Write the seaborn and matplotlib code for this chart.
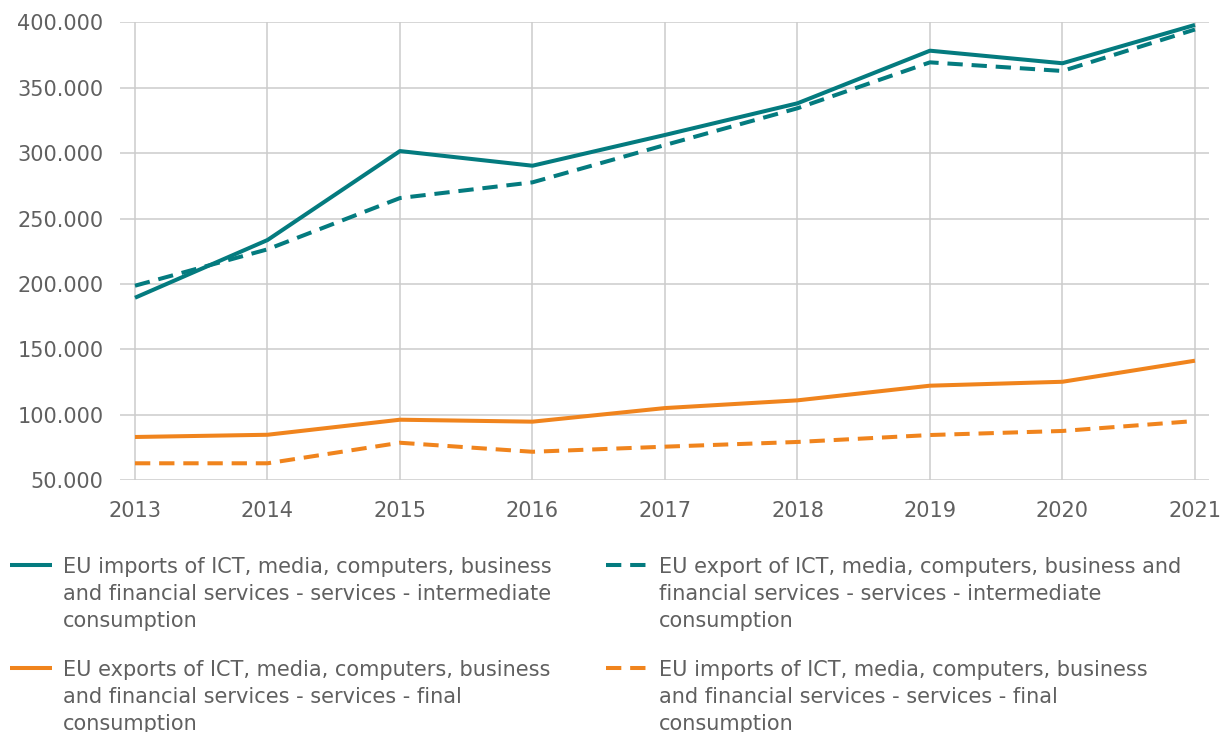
import numpy as np
import pandas as pd
import matplotlib.pyplot as plt
import seaborn as sns

sns.set_theme(style="whitegrid")
plt.rcParams['font.family'] = ['DejaVu Sans']

#%% dados
years = [2013, 2014, 2015, 2016, 2017, 2018, 2019, 2020, 2021]
imp_interm = [189500, 233600, 301600, 290400, 313900, 338100, 378300, 368700, 398000]
exp_interm = [198700, 226500, 265700, 277700, 306200, 334300, 369400, 362800, 394500]
exp_final = [83100, 84800, 96300, 94800, 105200, 111100, 122300, 125300, 141400]
imp_final = [63000, 63000, 78700, 71800, 75700, 79300, 84600, 87700, 95300]

labels = [
    "EU imports of ICT, media, computers, business\nand financial services - services - intermediate\nconsumption",
    "EU export of ICT, media, computers, business and\nfinancial services - services - intermediate\nconsumption",
    "EU exports of ICT, media, computers, business\nand financial services - services - final\nconsumption",
    "EU imports of ICT, media, computers, business\nand financial services - services - final\nconsumption",
]
yticks = [50000, 100000, 150000, 200000, 250000, 300000, 350000, 400000]

teal = "#047b7f"
orange = "#f0841d"
grey_txt = "#606060"
fs = 15

df = pd.DataFrame({
    'year': years * 4,
    'value': imp_interm + exp_interm + exp_final + imp_final,
    'serie': np.repeat(labels, len(years)),
})

#%% figura
fig = plt.figure(figsize=(12.28, 7.32), dpi=100)
ax = fig.add_axes([120/1228, 1 - 480.3/732, (1209 - 120)/1228, (480.3 - 22.3)/732])

ax = sns.lineplot(df, x='year', y='value', hue='serie', style='serie',
                  palette=[teal, teal, orange, orange],
                  dashes=[(1, 0), (3.8, 2.2), (1, 0), (3.8, 2.2)],
                  linewidth=2.9, ax=ax, legend=True)

ax.set_xlim(2012.887, 2021.106)
ax.set_ylim(50000, 400000)
ax.set_xticks(years)
ax.set_yticks(yticks)
ax.set_yticklabels([f"{v:,}".replace(",", ".") for v in yticks])
ax.set_xlabel("")
ax.set_ylabel("")
ax.grid(which='major', color="#cccccc", linewidth=1.1)
for s in ax.spines.values():
    s.set_visible(False)
ax.tick_params(axis='both', length=0, labelsize=fs, labelcolor=grey_txt)
ax.tick_params(axis='x', pad=15)
ax.tick_params(axis='y', pad=12)

handles, _ = ax.get_legend_handles_labels()
ax.get_legend().remove()
# ordem: col1 = imp_interm, exp_final ; col2 = exp_interm, imp_final
order = [0, 2, 1, 3]
leg = fig.legend([handles[i] for i in order], [labels[i] for i in order],
                 loc='upper left', bbox_to_anchor=(10/1228, 1 - 557/732),
                 ncol=2, frameon=False, fontsize=fs, borderpad=0,
                 borderaxespad=0, handlelength=2.0, handletextpad=0.55,
                 handleheight=1.0, columnspacing=2.6, labelspacing=1.35)
for t in leg.get_texts():
    t.set_color(grey_txt)
    t.set_linespacing(1.45)
# alinhar o traço da legenda com a primeira linha do texto
for col in leg._legend_handle_box.get_children():
    for item in col.get_children():
        item.align = 'top'

plt.savefig("out.png", dpi=100)
